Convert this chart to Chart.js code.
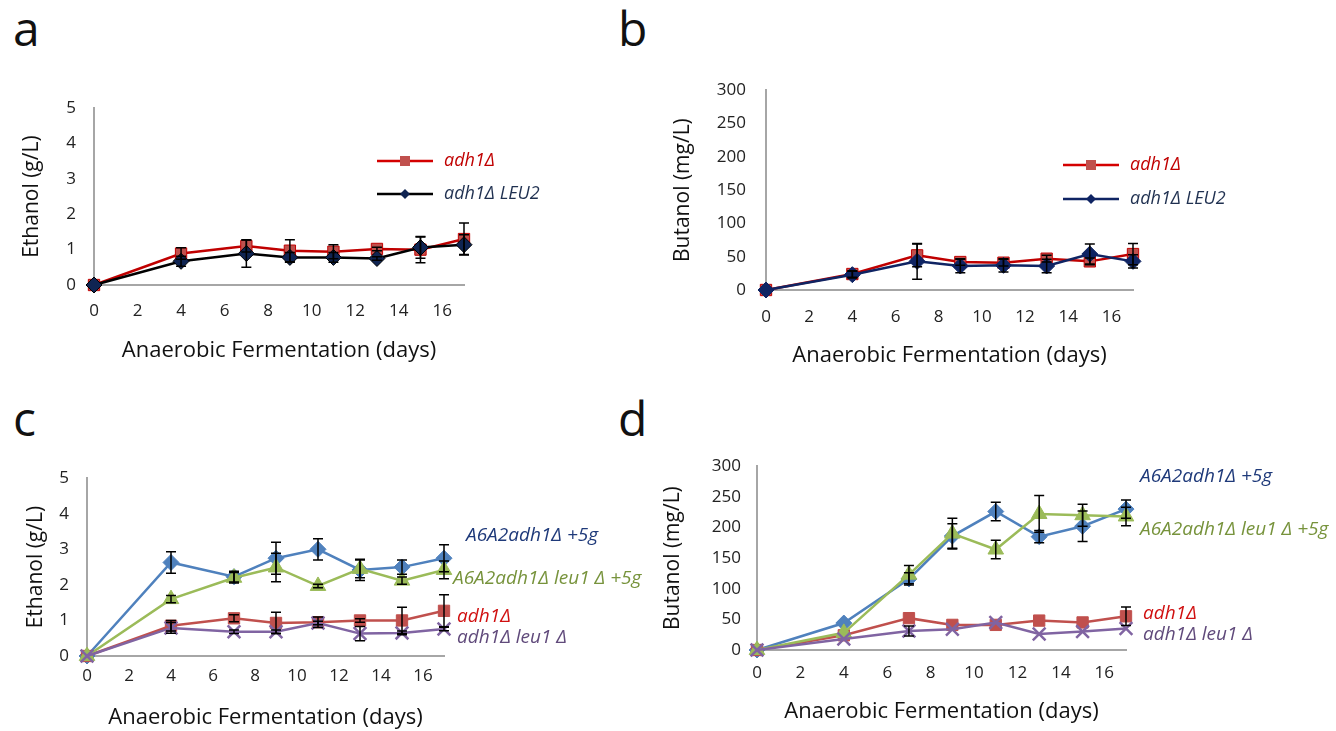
<!DOCTYPE html>
<html>
<head>
<meta charset="utf-8">
<script src="https://cdn.jsdelivr.net/npm/chart.js@4.4.1/dist/chart.umd.min.js"></script>
<style>
  body { margin: 0; background: #fff; }
  #wrap { position: relative; width: 1336px; height: 731px; overflow: hidden; }
  canvas { position: absolute; }
  .tag { position: absolute; font: 48px "Open Sans", sans-serif; line-height: 48px; color: #111; }
</style>
</head>
<body>
<div id="wrap">
  <div class="tag" style="left:13px;top:4px">a</div>
  <div class="tag" style="left:618px;top:4px">b</div>
  <div class="tag" style="left:13px;top:394px">c</div>
  <div class="tag" style="left:618px;top:394px">d</div>
  <canvas id="chartA" width="580" height="300" style="left:0;top:80px"></canvas>
  <canvas id="chartB" width="640" height="320" style="left:640px;top:60px"></canvas>
  <canvas id="chartC" width="680" height="281" style="left:0;top:450px"></canvas>
  <canvas id="chartD" width="696" height="291" style="left:640px;top:440px"></canvas>
</div>
<script>
// sampling days (same for every series)
var days = [0, 4, 7, 9, 11, 13, 15, 17];

// a: ethanol (g/L)
var ethA_adh1 = [0, 0.89, 1.1, 0.97, 0.94, 1.02, 1.0, 1.3];
var ethA_adh1Err = [0, 0.16, 0.17, 0.31, 0.2, 0.05, 0.37, 0.45];
var ethA_leu2 = [0, 0.67, 0.89, 0.78, 0.78, 0.75, 1.06, 1.14];
var ethA_leu2Err = [0, 0.14, 0.39, 0.14, 0.14, 0.05, 0.3, 0.28];

// b: butanol (mg/L)
var butB_adh1 = [0, 24, 52, 42, 41, 47, 43, 54];
var butB_adh1Err = [0, 5, 17, 5, 5, 5, 5, 16];
var butB_leu2 = [0, 23, 43, 36, 37, 36, 54, 43];
var butB_leu2Err = [0, 5, 27, 10, 10, 10, 15, 10];

// c: ethanol (g/L)
var ethC_a6 = [0, 2.63, 2.23, 2.75, 3.0, 2.42, 2.5, 2.75];
var ethC_a6Err = [0, 0.3, 0.15, 0.45, 0.3, 0.3, 0.2, 0.38];
var ethC_a6leu = [0, 1.6, 2.2, 2.49, 1.97, 2.45, 2.12, 2.42];
var ethC_a6leuErr = [0, 0.1, 0.15, 0.4, 0.05, 0.25, 0.1, 0.25];
var ethC_adh1 = [0, 0.85, 1.06, 0.93, 0.95, 1.0, 1.0, 1.27];
var ethC_adh1Err = [0, 0.15, 0.1, 0.3, 0.15, 0.05, 0.37, 0.45];
var ethC_leu1 = [0, 0.79, 0.68, 0.68, 0.93, 0.63, 0.65, 0.76];
var ethC_leu1Err = [0, 0.15, 0.05, 0.05, 0.05, 0.2, 0.05, 0.05];

// d: butanol (mg/L)
var butD_a6 = [0, 44, 116, 186, 226, 185, 202, 230];
var butD_a6Err = [0, 0, 10, 20, 15, 10, 25, 15];
var butD_a6leu = [0, 28, 123, 190, 164, 222, 220, 218];
var butD_a6leuErr = [0, 0, 15, 25, 15, 30, 18, 15];
var butD_adh1 = [0, 24, 52, 41, 41, 48, 45, 55];
var butD_adh1Err = [0, 0, 0, 0, 0, 0, 0, 15];
var butD_leu1 = [0, 18, 31, 34, 45, 26, 30, 35];
var butD_leu1Err = [0, 0, 8, 0, 0, 0, 0, 0];

var FONT = '"Open Sans", sans-serif';

function pts(vals) {
    return days.map(function (d, i) { return { x: d, y: vals[i] }; });
}

function series(label, vals, errs, color, style, radius, lineColor) {
    var cross = style === 'crossRot';
    return {
        label: label,
        data: pts(vals),
        errors: errs,
        borderColor: lineColor || color,
        backgroundColor: color,
        pointBackgroundColor: color,
        pointBorderColor: cross ? color : (lineColor || color),
        pointBorderWidth: cross ? 2.5 : 1,
        pointStyle: style,
        pointRadius: radius,
        borderWidth: 2.5,
        tension: 0,
        clip: false
    };
}

// vertical error bars with caps, placed with the chart's own y scale
var errorBars = {
    id: 'errorBars',
    afterDatasetsDraw: function (chart) {
        var ctx = chart.ctx, ys = chart.scales.y;
        ctx.save();
        ctx.strokeStyle = '#000';
        ctx.lineWidth = 1.5;
        chart.data.datasets.forEach(function (ds, di) {
            var meta = chart.getDatasetMeta(di);
            (ds.errors || []).forEach(function (e, i) {
                if (!e) return;
                var px = meta.data[i].x;
                var v = ds.data[i].y;
                var top = ys.getPixelForValue(v + e), bot = ys.getPixelForValue(v - e);
                ctx.beginPath();
                ctx.moveTo(px, top); ctx.lineTo(px, bot);
                ctx.moveTo(px - 5, top); ctx.lineTo(px + 5, top);
                ctx.moveTo(px - 5, bot); ctx.lineTo(px + 5, bot);
                ctx.stroke();
            });
        });
        ctx.restore();
    }
};

// legend keys and line-end labels
var notes = {
    id: 'notes',
    afterDraw: function (chart, args, opts) {
        var ctx = chart.ctx;
        ctx.save();
        (opts.items || []).forEach(function (it) {
            if (it.line) {
                ctx.strokeStyle = it.line;
                ctx.lineWidth = 2.5;
                ctx.beginPath();
                ctx.moveTo(it.x - 67, it.y); ctx.lineTo(it.x - 11, it.y);
                ctx.stroke();
                var mx = it.x - 39;
                ctx.fillStyle = it.marker;
                ctx.beginPath();
                if (it.shape === 'rect') {
                    ctx.rect(mx - 5, it.y - 5, 10, 10);
                } else {
                    ctx.moveTo(mx, it.y - 5); ctx.lineTo(mx + 5, it.y);
                    ctx.lineTo(mx, it.y + 5); ctx.lineTo(mx - 5, it.y);
                    ctx.closePath();
                }
                ctx.fill();
            }
            ctx.fillStyle = it.color;
            ctx.font = 'italic ' + (opts.size || 18) + 'px ' + FONT;
            ctx.textBaseline = 'middle';
            ctx.textAlign = 'left';
            ctx.fillText(it.text, it.x, it.y);
        });
        ctx.restore();
    }
};

function makeChart(id, datasets, o) {
    var ctx = document.getElementById(id).getContext('2d');
    return new Chart(ctx, {
        type: 'line',
        data: { datasets: datasets },
        options: {
            responsive: false,
            animation: false,
            layout: { padding: o.pad },
            plugins: {
                legend: { display: false },
                tooltip: { enabled: false },
                notes: { items: o.notes, size: o.noteSize }
            },
            scales: {
                x: {
                    type: 'linear', min: 0, max: 17,
                    grid: { display: false, drawTicks: false },
                    border: { color: '#a6a6a6', width: 2 },
                    ticks: { stepSize: 2, includeBounds: false, padding: o.xTickPad,
                             color: '#222', font: { family: FONT, size: 17 } },
                    title: { display: true, text: 'Anaerobic Fermentation (days)', color: '#111',
                             padding: 0, font: { family: FONT, size: 22 } },
                    afterFit: function (s) { s.height = o.xH; }
                },
                y: {
                    min: 0, max: o.yMax,
                    grid: { display: false, drawTicks: false },
                    border: { color: '#a6a6a6', width: 2 },
                    ticks: { stepSize: o.yStep, padding: o.yTickPad,
                             color: '#222', font: { family: FONT, size: 17 } },
                    title: { display: true, text: o.yTitle, color: '#111',
                             padding: 0, font: { family: FONT, size: 21 } },
                    afterFit: function (s) { s.width = o.yW; }
                }
            }
        },
        plugins: [errorBars, notes]
    });
}

makeChart('chartA', [
    series('adh1Δ LEU2', ethA_leu2, ethA_leu2Err, '#0f2452', 'rectRot', 8, '#000'),
    series('adh1Δ', ethA_adh1, ethA_adh1Err, '#c0504d', 'rect', 8, '#c00000')
], {
    pad: { left: 19, top: 25, right: 116, bottom: 16 }, xH: 79, yW: 75,
    xTickPad: 16, yTickPad: 18, yMax: 5, yStep: 1, yTitle: 'Ethanol (g/L)',
    noteSize: 18,
    notes: [
        { text: 'adh1Δ', color: '#c00000', x: 444, y: 81, line: '#d40000', marker: '#c0504d', shape: 'rect' },
        { text: 'adh1Δ LEU2', color: '#1f3050', x: 444, y: 114, line: '#000', marker: '#0f2452', shape: 'diamond' }
    ]
});

makeChart('chartB', [
    series('adh1Δ LEU2', butB_leu2, butB_leu2Err, '#0f2463', 'rectRot', 8),
    series('adh1Δ', butB_adh1, butB_adh1Err, '#c0504d', 'rect', 8, '#c00000')
], {
    pad: { left: 30, top: 25, right: 147, bottom: 11 }, xH: 79, yW: 96,
    xTickPad: 17, yTickPad: 20, yMax: 300, yStep: 50, yTitle: 'Butanol (mg/L)',
    noteSize: 18,
    notes: [
        { text: 'adh1Δ', color: '#c00000', x: 490, y: 105, line: '#d40000', marker: '#c0504d', shape: 'rect' },
        { text: 'adh1Δ LEU2', color: '#1f3050', x: 490, y: 139, line: '#0f2463', marker: '#0f2463', shape: 'diamond' }
    ]
});

makeChart('chartC', [
    series('adh1Δ leu1 Δ', ethC_leu1, ethC_leu1Err, '#8064a2', 'crossRot', 9),
    series('A6A2adh1Δ leu1 Δ +5g', ethC_a6leu, ethC_a6leuErr, '#9bbb59', 'triangle', 9),
    series('adh1Δ', ethC_adh1, ethC_adh1Err, '#c0504d', 'rect', 8),
    series('A6A2adh1Δ +5g', ethC_a6, ethC_a6Err, '#4f81bd', 'rectRot', 8)
], {
    pad: { left: 23, top: 26, right: 236, bottom: 0 }, xH: 75, yW: 64,
    xTickPad: 10, yTickPad: 18, yMax: 5, yStep: 1, yTitle: 'Ethanol (g/L)',
    noteSize: 19,
    notes: [
        { text: 'A6A2adh1Δ +5g', color: '#1f3a7a', x: 466, y: 86 },
        { text: 'A6A2adh1Δ leu1 Δ +5g', color: '#77933c', x: 453, y: 129 },
        { text: 'adh1Δ', color: '#d01010', x: 457, y: 167 },
        { text: 'adh1Δ leu1 Δ', color: '#604a7b', x: 457, y: 188 }
    ]
});

makeChart('chartD', [
    series('adh1Δ leu1 Δ', butD_leu1, butD_leu1Err, '#8064a2', 'crossRot', 9),
    series('A6A2adh1Δ leu1 Δ +5g', butD_a6leu, butD_a6leuErr, '#9bbb59', 'triangle', 9),
    series('adh1Δ', butD_adh1, butD_adh1Err, '#c0504d', 'rect', 8),
    series('A6A2adh1Δ +5g', butD_a6, butD_a6Err, '#4f81bd', 'rectRot', 8)
], {
    pad: { left: 20, top: 23, right: 210, bottom: 6 }, xH: 75, yW: 97,
    xTickPad: 13, yTickPad: 16, yMax: 300, yStep: 50, yTitle: 'Butanol (mg/L)',
    noteSize: 19,
    notes: [
        { text: 'A6A2adh1Δ +5g', color: '#1f3a7a', x: 500, y: 37 },
        { text: 'A6A2adh1Δ leu1 Δ +5g', color: '#77933c', x: 500, y: 90 },
        { text: 'adh1Δ', color: '#d01010', x: 503, y: 174 },
        { text: 'adh1Δ leu1 Δ', color: '#604a7b', x: 503, y: 195 }
    ]
});
</script>
</body>
</html>
